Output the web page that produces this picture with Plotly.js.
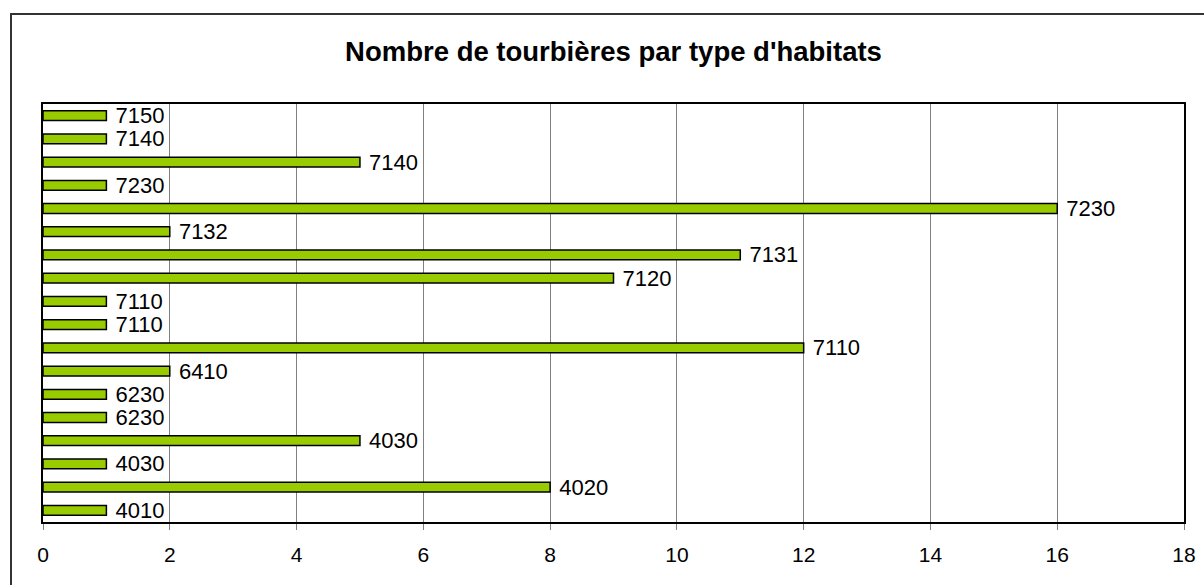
<!DOCTYPE html>
<html>
<head>
<meta charset="utf-8">
<script src="https://cdn.plot.ly/plotly-3.0.1.min.js"></script>
<style>
  html, body { margin: 0; padding: 0; background: #fff; overflow: hidden; }
  #wrap { position: relative; width: 1204px; height: 585px; overflow: hidden; }
  #chart { width: 1204px; height: 585px; }
  #frame { position: absolute; left: 10px; top: 13px; width: 1400px; height: 800px;
           border-left: 2px solid #333; border-top: 2px solid #333; pointer-events: none; }
</style>
</head>
<body>
<div id="wrap">
<div id="chart"></div>
<div id="frame"></div>
</div>
<script>
// Habitat codes (bottom to top) and number of peat bogs for each bar
const habitatCodes = ['4010','4020','4030','4030','6230','6230','6410','7110','7110','7110','7120','7131','7132','7230','7230','7140','7140','7150'];
const bogCounts    = [1, 8, 1, 5, 1, 1, 2, 12, 1, 1, 9, 11, 2, 16, 1, 5, 1, 1];
const xTickValues  = [0, 2, 4, 6, 8, 10, 12, 14, 16, 18];
const chartTitle   = "Nombre de tourbières par type d'habitats";

const positions = habitatCodes.map((_, i) => i);

const trace = {
  type: 'bar',
  orientation: 'h',
  x: bogCounts,
  y: positions,
  text: habitatCodes,
  texttemplate: ' %{text}',
  textposition: 'outside',
  constraintext: 'none',
  cliponaxis: false,
  textfont: { family: 'Liberation Sans, Arial, sans-serif', size: 22, color: '#000' },
  marker: { color: '#99CC00', line: { color: '#000', width: 1.5 } },
  hoverinfo: 'none'
};

const W = 1204, H = 585, mL = 43, mR = 20, mT = 104, mB = 63;

const layout = {
  width: W, height: H,
  margin: { l: mL, r: mR, t: mT, b: mB, pad: 0 },
  paper_bgcolor: '#fff',
  plot_bgcolor: '#fff',
  showlegend: false,
  bargap: 0.58,
  title: {
    text: chartTitle,
    font: { family: 'Liberation Sans, Arial, sans-serif', size: 27.5, color: '#000', weight: 'bold' },
    x: 0.5, xref: 'paper', xanchor: 'center',
    y: 1 - 51 / H, yref: 'container', yanchor: 'middle'
  },
  xaxis: {
    range: [0, 18],
    tickvals: xTickValues,
    ticktext: xTickValues.map(String),
    showgrid: true, gridcolor: '#808080', gridwidth: 1,
    zeroline: false,
    showline: true, linecolor: '#000', linewidth: 2, mirror: true,
    ticks: 'outside', ticklen: 6, tickcolor: '#808080', tickwidth: 1,
    ticklabelstandoff: 7,
    tickfont: { family: 'Liberation Sans, Arial, sans-serif', size: 21, color: '#000' },
    fixedrange: true
  },
  yaxis: {
    range: [-0.5, habitatCodes.length - 0.5],
    showticklabels: false,
    ticks: '',
    showgrid: false, zeroline: false,
    showline: true, linecolor: '#000', linewidth: 2, mirror: true,
    fixedrange: true
  }
};

Plotly.newPlot('chart', [trace], layout, { displayModeBar: false, staticPlot: true });
</script>
</body>
</html>
